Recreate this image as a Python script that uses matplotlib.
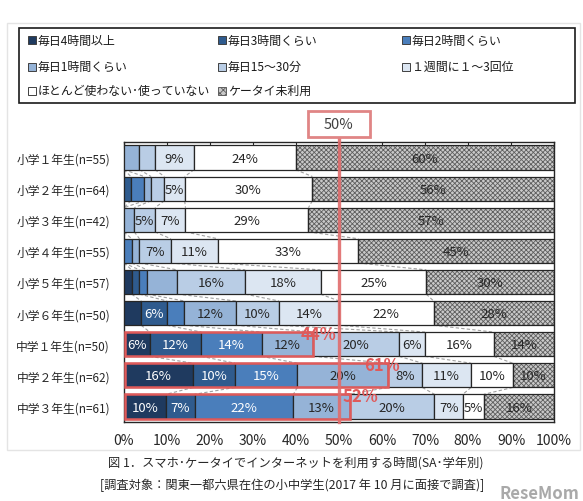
import numpy as np
import matplotlib
matplotlib.use("Agg")
import matplotlib.pyplot as plt
from matplotlib.patches import Rectangle
from matplotlib.transforms import blended_transform_factory

plt.rcParams['font.family'] = ['Noto Sans CJK JP', 'DejaVu Sans']
plt.rcParams['hatch.linewidth'] = 0.6

# --- data (percent) ---
grades = ['小学１年生(n=55)', '小学２年生(n=64)', '小学３年生(n=42)', '小学４年生(n=55)',
          '小学５年生(n=57)', '小学６年生(n=50)', '中学１年生(n=50)', '中学２年生(n=62)',
          '中学３年生(n=61)']
categories = ['毎日4時間以上', '毎日3時間くらい', '毎日2時間くらい',
              '毎日1時間くらい', '毎日15～30分', '１週間に１～3回位',
              'ほとんど使わない･使っていない', 'ケータイ未利用']

e1 = [0, 0, 0, 3.6, 3.6, 9.1, 23.6, 60.0]
e2 = [0, 1.6, 3.1, 1.6, 3.1, 4.7, 29.7, 56.3]
e3 = [0, 0, 0, 2.4, 4.8, 7.1, 28.6, 57.1]
e4 = [0, 0, 1.8, 1.8, 7.3, 10.9, 32.7, 45.5]
e5 = [1.8, 1.8, 1.8, 7.0, 15.8, 17.5, 24.6, 29.8]
e6 = [4, 6, 4, 12, 10, 14, 22, 28]
j1 = [6, 12, 14, 12, 20, 6, 16, 14]
j2 = [16.1, 9.7, 14.5, 21.0, 8.1, 11.3, 9.7, 9.6]
j3 = [9.8, 6.6, 23.0, 13.1, 19.7, 6.6, 4.9, 16.4]

l1 = ['', '', '', '', '', '9%', '24%', '60%']
l2 = ['', '', '', '', '', '5%', '30%', '56%']
l3 = ['', '', '', '', '5%', '7%', '29%', '57%']
l4 = ['', '', '', '', '7%', '11%', '33%', '45%']
l5 = ['', '', '', '', '16%', '18%', '25%', '30%']
l6 = ['', '6%', '', '12%', '10%', '14%', '22%', '28%']
l7 = ['6%', '12%', '14%', '12%', '20%', '6%', '16%', '14%']
l8 = ['16%', '10%', '15%', '20%', '8%', '11%', '10%', '10%']
l9 = ['10%', '7%', '22%', '13%', '20%', '7%', '5%', '16%']

# junior high: share using the phone at least 1 hour a day
highlight_rows = [6, 7, 8]
highlight_text = ['44%', '61%', '52%']

values = np.array([e1, e2, e3, e4, e5, e6, j1, j2, j3])
labels = [l1, l2, l3, l4, l5, l6, l7, l8, l9]

colors = ['#1f3a5f', '#2f5b8e', '#4a7ebb', '#95b3d7', '#b9cde5', '#dce6f2',
          '#ffffff', '#c9c9c9']
edge = '#262626'
red = '#e05a5a'

W, H = 583, 502
fig = plt.figure(figsize=(W / 100, H / 100), dpi=100)

# faint outer frame
fig.add_artist(Rectangle((7 / W, 1 - 451 / H), 573 / W, 427 / H, transform=fig.transFigure,
                         fill=False, ec='#e4e4e4', lw=1))

ax = fig.add_axes([124 / W, 1 - 423 / H, 430 / W, 280 / H])
ax.set_xlim(0, 100)
ax.set_ylim(8.5, -0.5)

h = 0.78
y = np.arange(len(grades))
left = np.zeros(len(grades))
cums = []
for k in range(len(categories)):
    w = values[:, k]
    m = w > 0
    if k == 7:
        ax.barh(y[m], w[m], left=left[m], height=h, color=colors[k], hatch='xxxxxxx',
                edgecolor='#5e5e5e', lw=0, zorder=2)
        ax.barh(y[m], w[m], left=left[m], height=h, fill=False, edgecolor=edge, lw=0.9, zorder=3)
    else:
        ax.barh(y[m], w[m], left=left[m], height=h, color=colors[k], edgecolor=edge,
                lw=0.9, zorder=3)
    for i in y:
        if labels[i][k]:
            ax.text(left[i] + w[i] / 2, i + 0.02, labels[i][k], ha='center', va='center',
                    fontsize=9.5, color='white' if k < 3 else '#262626', zorder=5)
    left = left + w
    cums.append(left.copy())

# dashed series lines between bars
for k in range(len(categories) - 1):
    c = cums[k]
    for i in range(len(grades) - 1):
        ax.plot([c[i], c[i + 1]], [i + h / 2, i + 1 - h / 2], ls=(0, (3, 2)),
                color='#a0a0a0', lw=0.8, zorder=1)

# red boxes on junior high rows
for r, txt, dx in zip(highlight_rows, highlight_text, [1.2, -1.3, 2.4]):
    end = cums[3][r]
    ax.add_patch(Rectangle((0.2, r - h / 2), end - 0.2, h, fill=False, ec=red, lw=1.8,
                           zorder=6))
    ax.text(end + dx, r - h / 2 + 0.06, txt, ha='center', va='center', fontsize=12,
            fontweight='bold', color=red, zorder=7)

# 50% reference line and its box
ax.plot([50, 50], [-0.5 - 5 / 31.1, 8.5], color='#e06c6c', lw=2.4, alpha=0.9,
        clip_on=False, zorder=6)
bt = blended_transform_factory(ax.transData, ax.transAxes)
ax.add_patch(Rectangle((50 - 7.2, 1 + 5 / 280), 14.4, 26 / 280, transform=bt,
                       fc='white', ec='#e08585', lw=2, clip_on=False, zorder=7))
ax.text(50, 1 + 18 / 280, '50%', transform=bt, ha='center', va='center',
        fontsize=10.5, color='#404040', zorder=8)

ax.set_xticks(np.arange(0, 101, 10))
ax.set_xticklabels([f'{v}%' for v in range(0, 101, 10)])
ax.tick_params(axis='x', top=True, bottom=False, direction='in', length=4,
               labelsize=10, pad=8, colors=edge)
ax.set_yticks(y)
ax.set_yticklabels(grades)
ax.tick_params(axis='y', length=0, labelsize=8.5, pad=10, colors='#262626')
for s in ax.spines.values():
    s.set_color(edge)
    s.set_linewidth(1)

# legend (manual, 3 columns)
fig.add_artist(Rectangle((19 / W, 1 - 104 / H), 556 / W, 75 / H, transform=fig.transFigure,
                         fill=False, ec='#1a1a1a', lw=1.2))
col_x = [32, 222, 406]
row_y = [41, 67.5, 91.5]
for n, cat in enumerate(categories):
    cx, cy = col_x[n % 3], row_y[n // 3]
    kw = dict(transform=fig.transFigure, fc=colors[n], ec='#404040', lw=0.7)
    if n == 7:
        kw.update(hatch='xxxxx', ec='#5e5e5e')
    fig.add_artist(Rectangle(((cx - 4) / W, 1 - (cy + 4) / H), 8 / W, 8 / H, **kw))
    fig.text((cx + 6) / W, 1 - cy / H, cat, ha='left', va='center', fontsize=8.6,
             color='#1a1a1a')

fig.text(296 / W, 1 - 463 / H, '図 1．スマホ･ケータイでインターネットを利用する時間(SA･学年別)',
         ha='center', va='center', fontsize=8.8, color='#262626')
fig.text(292 / W, 1 - 485 / H, '[調査対象：関東一都六県在住の小中学生(2017 年 10 月に面接で調査)]',
         ha='center', va='center', fontsize=8.8, color='#262626')
fig.text(579 / W, 1 - 494 / H, 'ReseMom', ha='right', va='center', fontsize=12,
         fontweight='bold', color='#9a9a9a', alpha=0.85)

fig.savefig('out.png', dpi=100)
